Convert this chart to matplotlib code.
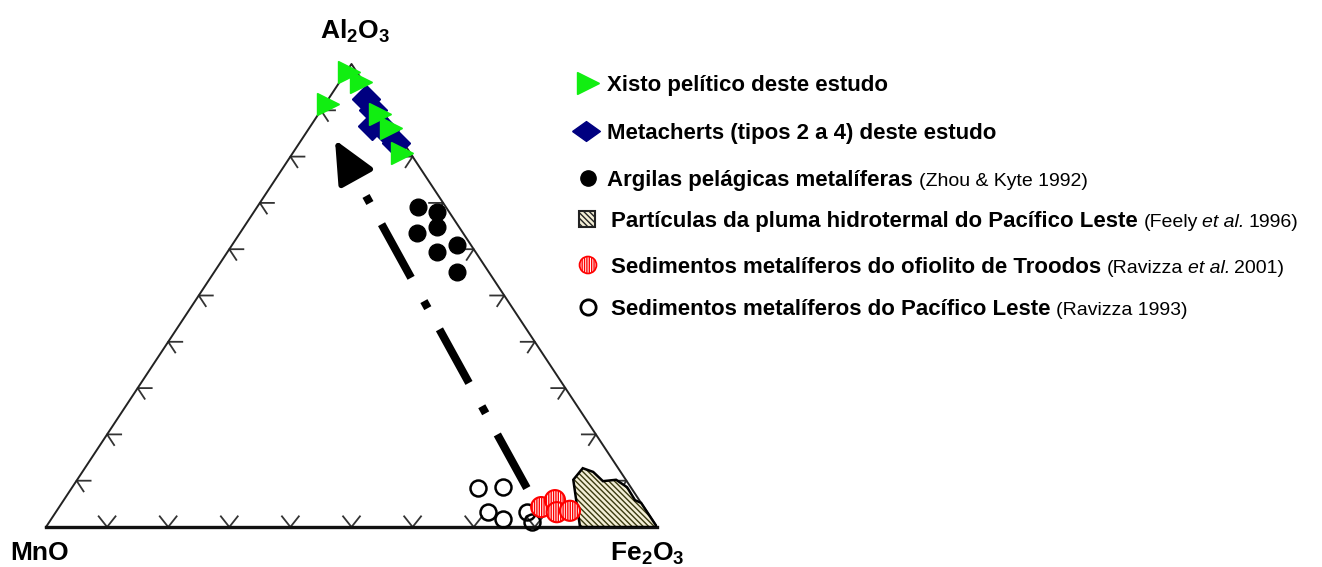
import numpy as np
import matplotlib
matplotlib.use('Agg')
import matplotlib.pyplot as plt
from matplotlib.patches import Polygon, Rectangle

plt.rcParams['font.family'] = ['Liberation Sans', 'DejaVu Sans']
plt.rcParams['mathtext.fontset'] = 'custom'
plt.rcParams['mathtext.rm'] = 'Liberation Sans:bold'
plt.rcParams['mathtext.bf'] = 'Liberation Sans:bold'
plt.rcParams['hatch.linewidth'] = 1.0

# compositions in % : Al2O3 and Fe2O3 (MnO = 100 - both)
xisto_al = [98.3, 96.1, 91.4, 89.2, 86.2, 80.8]
xisto_fe = [0.5, 3.5, 0.5, 10.1, 13.4, 17.9]

meta_al = [92.4, 90.1, 86.6, 85.7, 82.9]
meta_fe = [6.2, 8.5, 10.1, 12.6, 15.8]

argila_al = [69.1, 68.0, 64.8, 63.5, 59.4, 60.9, 55.1]
argila_fe = [26.3, 30.0, 31.6, 29.0, 34.3, 36.8, 39.7]

pacifico_al = [8.4, 8.6, 3.2, 1.7, 3.2, 1.1]
pacifico_fe = [66.5, 70.5, 70.7, 74.0, 77.1, 79.0]

troodos_al = [4.3, 5.8, 3.2, 3.5]
troodos_fe = [78.9, 80.4, 82.0, 84.0]

pluma_al = [0.0, 10.2, 12.7, 11.9, 9.9, 10.2, 8.6, 5.8, 5.2, 0.0]
pluma_fe = [87.4, 81.2, 81.5, 83.6, 86.2, 88.2, 90.8, 93.5, 94.8, 100.0]

# trend arrow: start, shaft start, tip
trend_al = [8.4, 76.0, 83.6]
trend_fe = [74.5, 12.5, 5.5]

tick_vals = [10, 20, 30, 40, 50, 60, 70, 80, 90]

legend_labels = ['Xisto pelítico deste estudo',
                 'Metacherts (tipos 2 a 4) deste estudo',
                 'Argilas pelágicas metalíferas',
                 'Partículas da pluma hidrotermal do Pacífico Leste',
                 'Sedimentos metalíferos do ofiolito de Troodos',
                 'Sedimentos metalíferos do Pacífico Leste']
legend_refs = [[],
               [],
               [('(Zhou & Kyte 1992)', 'normal')],
               [('(Feely', 'normal'), ('et al.', 'italic'), ('1996)', 'normal')],
               [('(Ravizza', 'normal'), ('et al.', 'italic'), ('2001)', 'normal')],
               [('(Ravizza 1993)', 'normal')]]


def tern(al, fe):
    al = np.asarray(al, float) / 100.0
    fe = np.asarray(fe, float) / 100.0
    return fe + al / 2.0, al


green = '#11ee11'
navy = '#000080'
wide_diamond = [(-1.4, 0), (0, 1), (1.4, 0), (0, -1), (-1.4, 0)]

fig = plt.figure(figsize=(13.22, 5.67), dpi=100)
lax = fig.add_axes([0, 0, 1, 1])
lax.set_xlim(0, 1322)
lax.set_ylim(567, 0)
lax.axis('off')

ax = fig.add_axes([46 / 1322, 40 / 567, 611 / 1322, 463 / 567])
ax.set_xlim(0, 1)
ax.set_ylim(0, 1)
ax.axis('off')

# frame
ax.plot([0, 0.5, 1], [0, 1, 0], color='#222222', lw=1.4, zorder=2, clip_on=False)
ax.plot([0, 1], [0, 0], color='#111111', lw=2.4, zorder=2, clip_on=False)

# ticks
t = 0.023
for v in tick_vals:
    v = v / 100.0
    ax.plot([v - 0.6 * t, v, v + 0.6 * t], [t, 0, t], color='#333333', lw=1.3, zorder=1)
    x0 = 0.5 * v
    ax.plot([x0 + t, x0, x0 + 0.5 * t], [v, v, v - t], color='#333333', lw=1.3, zorder=1)
    x0 = 1 - 0.5 * v
    ax.plot([x0 - t, x0, x0 - 0.5 * t], [v, v, v - t], color='#333333', lw=1.3, zorder=1)

# trend arrow
tx, ty = tern(trend_al, trend_fe)
ax.plot(tx[:2], ty[:2], color='k', lw=5.8, linestyle=(0, (7.6, 3.0, 1.0, 3.3)),
        dash_capstyle='butt', zorder=3)
ax.annotate('', xy=(tx[2], ty[2]), xytext=(tx[1], ty[1]),
            arrowprops=dict(arrowstyle='-|>,head_length=1.3,head_width=0.6',
                            color='k', lw=4, mutation_scale=20, shrinkA=0, shrinkB=0),
            zorder=3)

# plume field
px, py = tern(pluma_al, pluma_fe)
ax.add_patch(Polygon(np.column_stack([px, py]), closed=True, facecolor='#f3eed6',
                     edgecolor='#3a3a10', lw=0, hatch='\\' * 6, zorder=3))
ax.add_patch(Polygon(np.column_stack([px, py]), closed=True, fill=False,
                     edgecolor='k', lw=1.8, zorder=3))

x, y = tern(pacifico_al, pacifico_fe)
ax.plot(x, y, 'o', mfc='none', mec='k', ms=11.5, mew=1.8, zorder=4, clip_on=False)

x, y = tern(troodos_al, troodos_fe)
ax.scatter(x, y, s=210, facecolor='white', edgecolor='red', hatch='|' * 7,
           lw=1.5, zorder=5)

x, y = tern(argila_al, argila_fe)
ax.plot(x, y, 'o', color='k', ms=12, zorder=4)

x, y = tern(meta_al, meta_fe)
ax.plot(x, y, 'D', color=navy, ms=14, zorder=6, clip_on=False)

x, y = tern(xisto_al, xisto_fe)
ax.plot(x, y, '>', color=green, ms=16, zorder=7, clip_on=False)

# vertex labels
lax.text(355, 31, r'Al$_2$O$_3$', fontsize=19, fontweight='bold', ha='center', va='center')
lax.text(40, 553, 'MnO', fontsize=19, fontweight='bold', ha='center', va='center')
lax.text(647, 554, r'Fe$_2$O$_3$', fontsize=19, fontweight='bold', ha='center', va='center')

# legend
rows_y = [83, 131, 178, 219, 265, 307]
text_x = [607, 607, 607, 611, 611, 611]
mk_x = 588
lax.plot(mk_x, rows_y[0], '>', color=green, ms=16)
lax.plot(mk_x - 2, rows_y[1], marker=wide_diamond, ls='none', color=navy, ms=20)
lax.plot(mk_x, rows_y[2], 'o', color='k', ms=11)
lax.add_patch(Rectangle((mk_x - 9, rows_y[3] - 8), 16, 16, facecolor='#f3eed6',
                        edgecolor='#222222', hatch='\\' * 6, lw=1.5))
lax.scatter([mk_x], [rows_y[4]], s=150, marker='o', facecolor='white', edgecolor='red',
            hatch='|' * 7, lw=1.2)
lax.plot(mk_x, rows_y[5], 'o', mfc='none', mec='k', ms=11, mew=2)

fig.canvas.draw()
renderer = fig.canvas.get_renderer()
inv = lax.transData.inverted()
for i, lab in enumerate(legend_labels):
    base = rows_y[i] + 8
    txt = lax.text(text_x[i], base, lab, fontsize=16, fontweight='bold',
                   ha='left', va='baseline')
    xe = inv.transform(txt.get_window_extent(renderer).get_points())[1, 0] + 6
    for s, style in legend_refs[i]:
        r = lax.text(xe, base, s, fontsize=14, style=style, ha='left', va='baseline')
        xe = inv.transform(r.get_window_extent(renderer).get_points())[1, 0] + 4

fig.savefig('out.png', dpi=100)
